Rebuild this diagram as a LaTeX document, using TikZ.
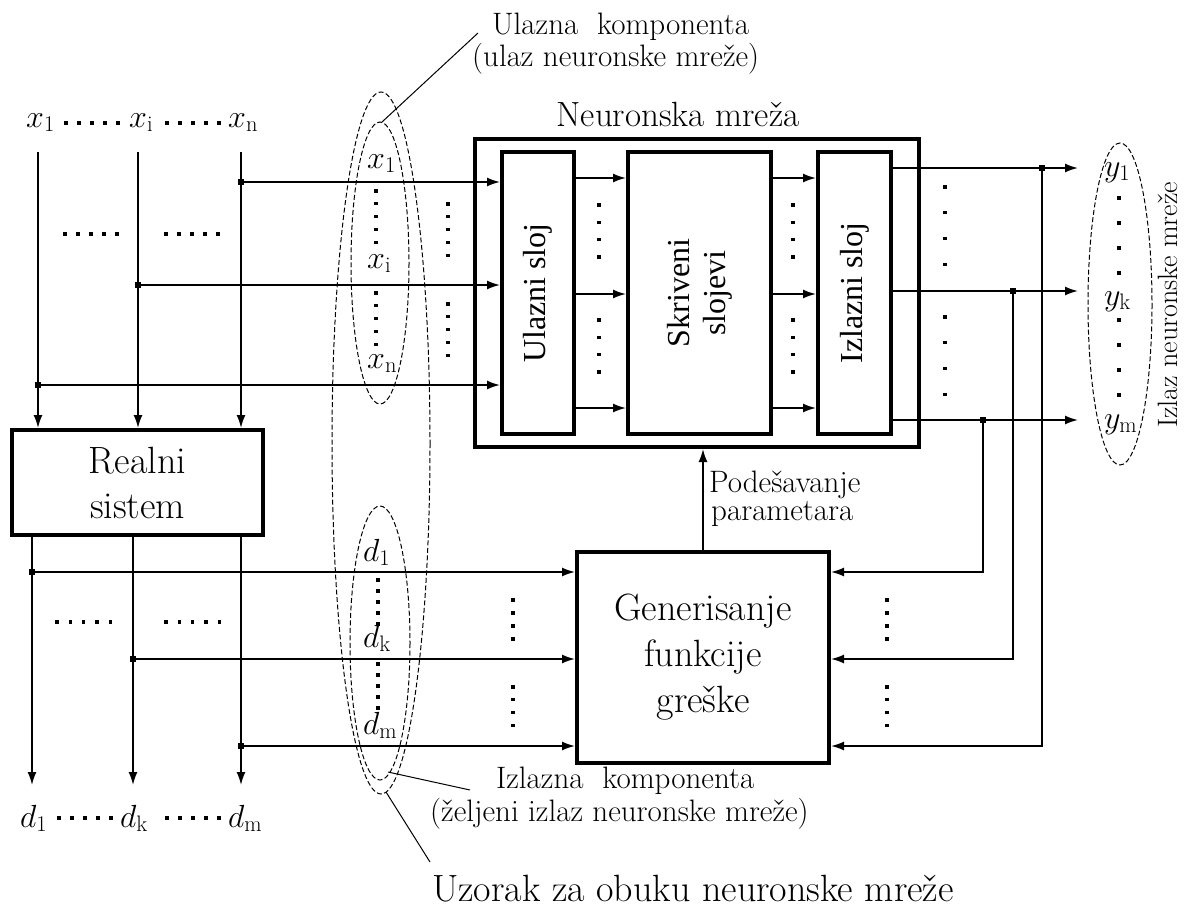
\RequirePackage{fix-cm}
\documentclass[tikz,border=0pt]{standalone}
\usepackage{fontspec}
\newfontfamily\tms{Liberation Serif}
\usetikzlibrary{arrows.meta}
\newcommand\hdotsat[4]{\foreach \k in {0,...,#3}{\fill ({#1+\k*#4-1.6},{#2-1.6}) rectangle +(3.2,3.2);}}
\newcommand\vdotsat[4]{\foreach \k in {0,...,#3}{\fill ({#1-1.6},{#2+\k*#4-1.6}) rectangle +(3.2,3.2);}}
\newcommand\mfs{\fontsize{32}{38}\selectfont}
\begin{document}
\begin{tikzpicture}[x=1pt,y=-1pt,
  thin/.style={line width=1.7pt},
  arr/.style={thin,-{Latex[length=13pt,width=9pt]}},
  boxs/.style={draw,line width=4pt,inner sep=0pt},
  ell/.style={line width=1pt,dash pattern=on 5pt off 2.5pt},
  lead/.style={line width=1pt},
  jn/.style={fill,rectangle,minimum size=6pt,inner sep=0pt},
  lbl/.style={inner sep=0pt},
  ann/.style={lbl,anchor=base west,font=\fontsize{31}{36}\selectfont},
  rot/.style={rotate=90,inner sep=0pt,align=center,font=\tms\fontsize{32}{36}\selectfont},
  ]
\useasboundingbox (0,0) rectangle (1184,921);

% ---------- boxes
\node[boxs,minimum width=251,minimum height=105,align=center,font=\fontsize{38}{45}\selectfont] (rs) at (137.5,482.5) {Realni\\sistem};
\node[boxs,minimum width=444,minimum height=308] (nn) at (697,293) {};
\node[lbl,anchor=base,font=\fontsize{35}{40}\selectfont] (nnt) at (678,126) {Neuronska mreža};
\node[boxs,minimum width=72,minimum height=282] (ul) at (538,293) {};
\node[boxs,minimum width=143,minimum height=282] (sk) at (699.5,293) {};
\node[boxs,minimum width=73,minimum height=282] (iz) at (854.5,293) {};
\node[rot] (ult) at (ul.center) {Ulazni sloj};
\node[rot] (skt) at (sk.center) {Skriveni\\slojevi};
\node[rot] (izt) at (iz.center) {Izlazni sloj};
\node[boxs,minimum width=252,minimum height=211,align=center,font=\fontsize{38}{46}\selectfont] (gen) at (703,657.5) {Generisanje\\funkcije\\greške};

% ---------- top inputs
\node[lbl,anchor=base west,font=\mfs] (lx1) at (26,127) {$x_{\mathrm{1}}$};
\node[lbl,anchor=base west,font=\mfs] (lxi) at (129,127) {$x_{\mathrm{i}}$};
\node[lbl,anchor=base west,font=\mfs] (lxn) at (228,127) {$x_{\mathrm{n}}$};
\hdotsat{66}{123}{4}{13}
\hdotsat{167}{123}{4}{13}
\coordinate (t1) at (38,152);
\coordinate (ti) at (138,152);
\coordinate (tn) at (241,152);
\draw[arr] (t1) -- (t1 |- rs.north);
\draw[arr] (ti) -- (ti |- rs.north);
\draw[arr] (tn) -- (tn |- rs.north);
\node[jn] (jxn) at (241,182) {};
\node[jn] (jxi) at (138,285) {};
\node[jn] (jx1) at (38,385) {};
\draw[arr] (jxn.center) -- (jxn.center -| ul.west);
\draw[arr] (jxi.center) -- (jxi.center -| ul.west);
\draw[arr] (jx1.center) -- (jx1.center -| ul.west);
\hdotsat{65}{234}{4}{13}
\hdotsat{166}{234}{4}{13}

% ---------- outputs of real system
\coordinate (b1) at (32,785);
\coordinate (bk) at (133,785);
\coordinate (bm) at (241,785);
\draw[arr] (b1 |- rs.south) -- (b1);
\draw[arr] (bk |- rs.south) -- (bk);
\draw[arr] (bm |- rs.south) -- (bm);
\node[jn] (jd1) at (32,572) {};
\node[jn] (jdk) at (133,659) {};
\node[jn] (jdm) at (241,746) {};
\draw[arr] (jd1.center) -- (jd1.center -| gen.west);
\draw[arr] (jdk.center) -- (jdk.center -| gen.west);
\draw[arr] (jdm.center) -- (jdm.center -| gen.west);
\hdotsat{57}{622}{4}{13.3}
\hdotsat{166}{622}{4}{13.3}
\node[lbl,anchor=base west,font=\mfs] (ld1) at (20,827) {$d_{\mathrm{1}}$};
\node[lbl,anchor=base west,font=\mfs] (ldk) at (120,827) {$d_{\mathrm{k}}$};
\node[lbl,anchor=base west,font=\mfs] (ldm) at (228,827) {$d_{\mathrm{m}}$};
\hdotsat{59}{818}{4}{13}
\hdotsat{167}{818}{4}{13}

% ---------- training sample column
\node[lbl,anchor=base west,font=\mfs] (ex1) at (367,168) {$x_{\mathrm{1}}$};
\node[lbl,anchor=base west,font=\mfs] (exi) at (367,268) {$x_{\mathrm{i}}$};
\node[lbl,anchor=base west,font=\mfs] (exn) at (367,368) {$x_{\mathrm{n}}$};
\vdotsat{376}{191}{4}{12.8}
\vdotsat{376}{293}{4}{12.8}
\node[lbl,anchor=base west,font=\mfs] (ed1) at (363,561) {$d_{\mathrm{1}}$};
\node[lbl,anchor=base west,font=\mfs] (edk) at (363,647) {$d_{\mathrm{k}}$};
\node[lbl,anchor=base west,font=\mfs] (edm) at (363,734) {$d_{\mathrm{m}}$};
\vdotsat{378}{580}{4}{11}
\vdotsat{378}{664}{4}{11}
\draw[ell] (380,263) ellipse [x radius=29,y radius=141];
\draw[ell] (380,643) ellipse [x radius=30,y radius=137];
\draw[ell] (381,443) ellipse [x radius=49,y radius=351];
\vdotsat{448}{204}{4}{12.8}
\vdotsat{448}{304}{4}{12.8}

% ---------- inside network
\coordinate (r1) at (0,178);
\coordinate (r2) at (0,294);
\coordinate (r3) at (0,408);
\foreach \r in {r1,r2,r3}{
  \draw[arr] (\r -| ul.east) -- (\r -| sk.west);
  \draw[arr] (\r -| sk.east) -- (\r -| iz.west);
}
\vdotsat{599}{205}{3}{17.3}
\vdotsat{599}{320}{3}{17.3}
\vdotsat{793}{205}{3}{17.3}
\vdotsat{793}{320}{3}{17.3}

% ---------- network outputs
\coordinate (o1) at (1078,168);
\coordinate (ok) at (1078,291);
\coordinate (om) at (1078,420);
\draw[arr] (o1 -| iz.east) -- (o1);
\draw[arr] (ok -| iz.east) -- (ok);
\draw[arr] (om -| iz.east) -- (om);
\vdotsat{945}{187}{3}{25.7}
\vdotsat{945}{317}{3}{25.7}
\node[jn] (jy1) at (1042,168) {};
\node[jn] (jyk) at (1013,291) {};
\node[jn] (jym) at (983,420) {};
\draw[arr] (jy1.center) |- (jdm.center -| gen.east);
\draw[arr] (jyk.center) |- (jdk.center -| gen.east);
\draw[arr] (jym.center) |- (jd1.center -| gen.east);
\vdotsat{513}{600}{3}{13}
\vdotsat{513}{687}{3}{12.7}
\vdotsat{887}{600}{3}{13}
\vdotsat{887}{687}{3}{12.7}

\node[lbl,anchor=base west,font=\mfs] (ey1) at (1104,176) {$y_{\mathrm{1}}$};
\node[lbl,anchor=base west,font=\mfs] (eyk) at (1104,305) {$y_{\mathrm{k}}$};
\node[lbl,anchor=base west,font=\mfs] (eym) at (1104,428) {$y_{\mathrm{m}}$};
\vdotsat{1119}{198}{3}{25}
\vdotsat{1119}{320}{3}{25}
\draw[ell] (1120,304) ellipse [x radius=32,y radius=161];
\node[lbl,rotate=90,anchor=center,font=\fontsize{28}{32}\selectfont] (izlt) at (1168,305) {Izlaz neuronske mreže};

% ---------- parameter adjustment
\draw[arr] (gen.north) -- (gen.north |- nn.south);
\node[ann] (pod1) at (709,492) {Podešavanje};
\node[ann] (pod2) at (711,520) {parametara};

% ---------- annotations
\node[ann] (ua1) at (492,34) {Ulazna\ \ komponenta};
\node[ann] (ua2) at (472,66) {(ulaz neuronske mreže)};
\coordinate (l1a) at (382,122);
\coordinate (l1b) at (478,33);
\draw[lead] (l1a) -- (l1b);

\node[ann] (ia1) at (496,788) {Izlazna\ \ komponenta};
\node[ann] (ia2) at (430,821) {(željeni izlaz neuronske mreže)};
\coordinate (l2a) at (388,772);
\coordinate (l2b) at (470,790);
\draw[lead] (l2a) -- (l2b);

\node[lbl,anchor=base west,font=\fontsize{38}{42}\selectfont] (uz) at (432,901) {Uzorak za obuku neuronske mreže};
\coordinate (l3a) at (386,792);
\coordinate (l3b) at (430,862);
\draw[lead] (l3a) -- (l3b);
\end{tikzpicture}
\end{document}
